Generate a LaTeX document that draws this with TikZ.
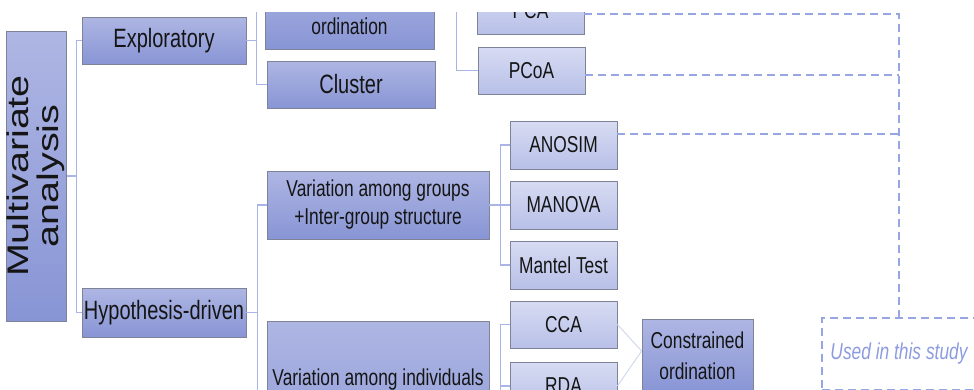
\documentclass[tikz,border=0pt]{standalone}
\usepackage{fontspec}
\setmainfont{Liberation Sans}[FakeStretch=0.755]
\newfontfamily\widefont{Liberation Sans}
\usepackage{graphicx}
\usetikzlibrary{shadows}

\definecolor{ink}{HTML}{151515}
\definecolor{boxedge}{HTML}{7F8398}
\definecolor{darktop}{HTML}{AEB6E3}
\definecolor{darkbot}{HTML}{8895D5}
\definecolor{lighttop}{HTML}{D7DBF2}
\definecolor{lightbot}{HTML}{B8C0E8}
\definecolor{connblue}{HTML}{AAB4E6}
\definecolor{dashblue}{HTML}{97A5E3}
\definecolor{mergeline}{HTML}{D3D8EF}
\definecolor{studyblue}{HTML}{8C9BDF}

\newcommand{\roottitle}{\rotatebox{90}{\scalebox{1}[0.755]{\widefont\fontsize{39.5}{37}\selectfont
  \begin{tabular}{@{}c@{}}Multivariate\\analysis\end{tabular}}}}

\tikzset{
  box/.style={draw=boxedge, line width=0.8pt, inner sep=0pt, text=ink,
    drop shadow={shadow xshift=0.8pt, shadow yshift=-0.8pt, opacity=0.25}},
  darkbox/.style={box, top color=darktop, bottom color=darkbot},
  lightbox/.style={box, top color=lighttop, bottom color=lightbot},
  big/.style={font=\fontsize{26.5}{30}\selectfont},
  small/.style={font=\fontsize{23}{28}\selectfont},
  conn/.style={draw=connblue, line width=1.2pt},
  used/.style={draw=dashblue, line width=1.3pt, dash pattern=on 8pt off 5pt},
  merge/.style={draw=mergeline, line width=1pt},
}

\begin{document}
\begin{tikzpicture}[x=1pt, y=-1pt]
\useasboundingbox (0,0) rectangle (974,389);
\clip (0,12) rectangle (974,389);

% root and first level
\node[darkbox, minimum width=51, minimum height=290] (root) at (36.5,176) {\roottitle};
\node[darkbox, big, minimum width=164, minimum height=47] (expl) at (164,40.5) {Exploratory};
\node[darkbox, big, minimum width=164, minimum height=49] (hypo) at (164,312.5) {Hypothesis-driven};

% exploratory branch
\node[darkbox, minimum width=169, minimum height=80] (ord) at (349.5,9) {};
\node[small, inner sep=0pt, text=ink] (ordtext) at (349.5,26) {ordination};
\node[darkbox, big, minimum width=168, minimum height=47] (clus) at (351,84.5) {Cluster};
\node[lightbox, small, minimum width=107, minimum height=46] (pca) at (530.5,11) {PCA};
\node[lightbox, small, minimum width=107, minimum height=47] (pcoa) at (531.5,70.5) {PCoA};

% hypothesis-driven branch
\node[darkbox, small, align=center, minimum width=222, minimum height=68] (vgrp) at (378,205)
  {Variation among groups\\+Inter-group structure};
\node[darkbox, small, anchor=north, minimum width=222, text height=64pt, text depth=100pt] (vind) at (378,321)
  {Variation among individuals};
\node[lightbox, small, minimum width=107, minimum height=48] (anosim) at (563.5,145) {ANOSIM};
\node[lightbox, small, minimum width=107, minimum height=48] (manova) at (563.5,205) {MANOVA};
\node[lightbox, small, minimum width=107, minimum height=48] (mantel) at (563.5,265) {Mantel Test};
\node[lightbox, small, minimum width=107, minimum height=47] (cca) at (563.5,324.5) {CCA};
\node[lightbox, small, minimum width=107, minimum height=48] (rda) at (563.5,386) {RDA};
\node[darkbox, font=\fontsize{23}{31}\selectfont, align=center, minimum width=111, minimum height=74] (cons) at (697.5,356)
  {Constrained\\ordination};

% legend box
\node[used, minimum width=154, minimum height=72, inner sep=0pt, text=studyblue,
  font=\fontsize{23}{28}\selectfont\itshape] (study) at (899,354) {Used in this study};

% tree connectors
\draw[conn] (root.east) -- ++(10,0) |- (expl.west);
\draw[conn] (root.east) -- ++(10,0) |- (hypo.west);
\draw[conn] (expl.east) -- ++(10,0) |- (ord.west);
\draw[conn] (expl.east) -- ++(10,0) |- (clus.west);
\draw[conn] (ord.east) -- ++(22,0) |- (pca.west);
\draw[conn] (ord.east) -- ++(22,0) |- (pcoa.west);
\draw[conn] (hypo.east) -- ++(11,0) |- (vgrp.west);
\draw[conn] (hypo.east) -- ++(11,0) |- (vind.west);
\draw[conn] (vgrp.east) -- ++(11,0) |- (anosim.west);
\draw[conn] (vgrp.east) -- ++(11,0) |- (manova.west);
\draw[conn] (vgrp.east) -- ++(11,0) |- (mantel.west);
\draw[conn] (vind.east) -- ++(11,0) |- (cca.west);
\draw[conn] (vind.east) -- ++(11,0) |- (rda.west);
\draw[merge] (cca.east) -- ([yshift=5pt]cons.west);
\draw[merge] (rda.east) -- ([yshift=5pt]cons.west);

% methods used in this study
\coordinate (usedtop) at (899,14);
\coordinate (usedpcoa) at (899,75);
\coordinate (usedanosim) at (899,134);
\draw[used] (pca.east |- usedtop) -- (usedtop) -- (study.north);
\draw[used] (pcoa.east |- usedpcoa) -- (usedpcoa);
\draw[used] (anosim.east |- usedanosim) -- (usedanosim);
\end{tikzpicture}
\end{document}
